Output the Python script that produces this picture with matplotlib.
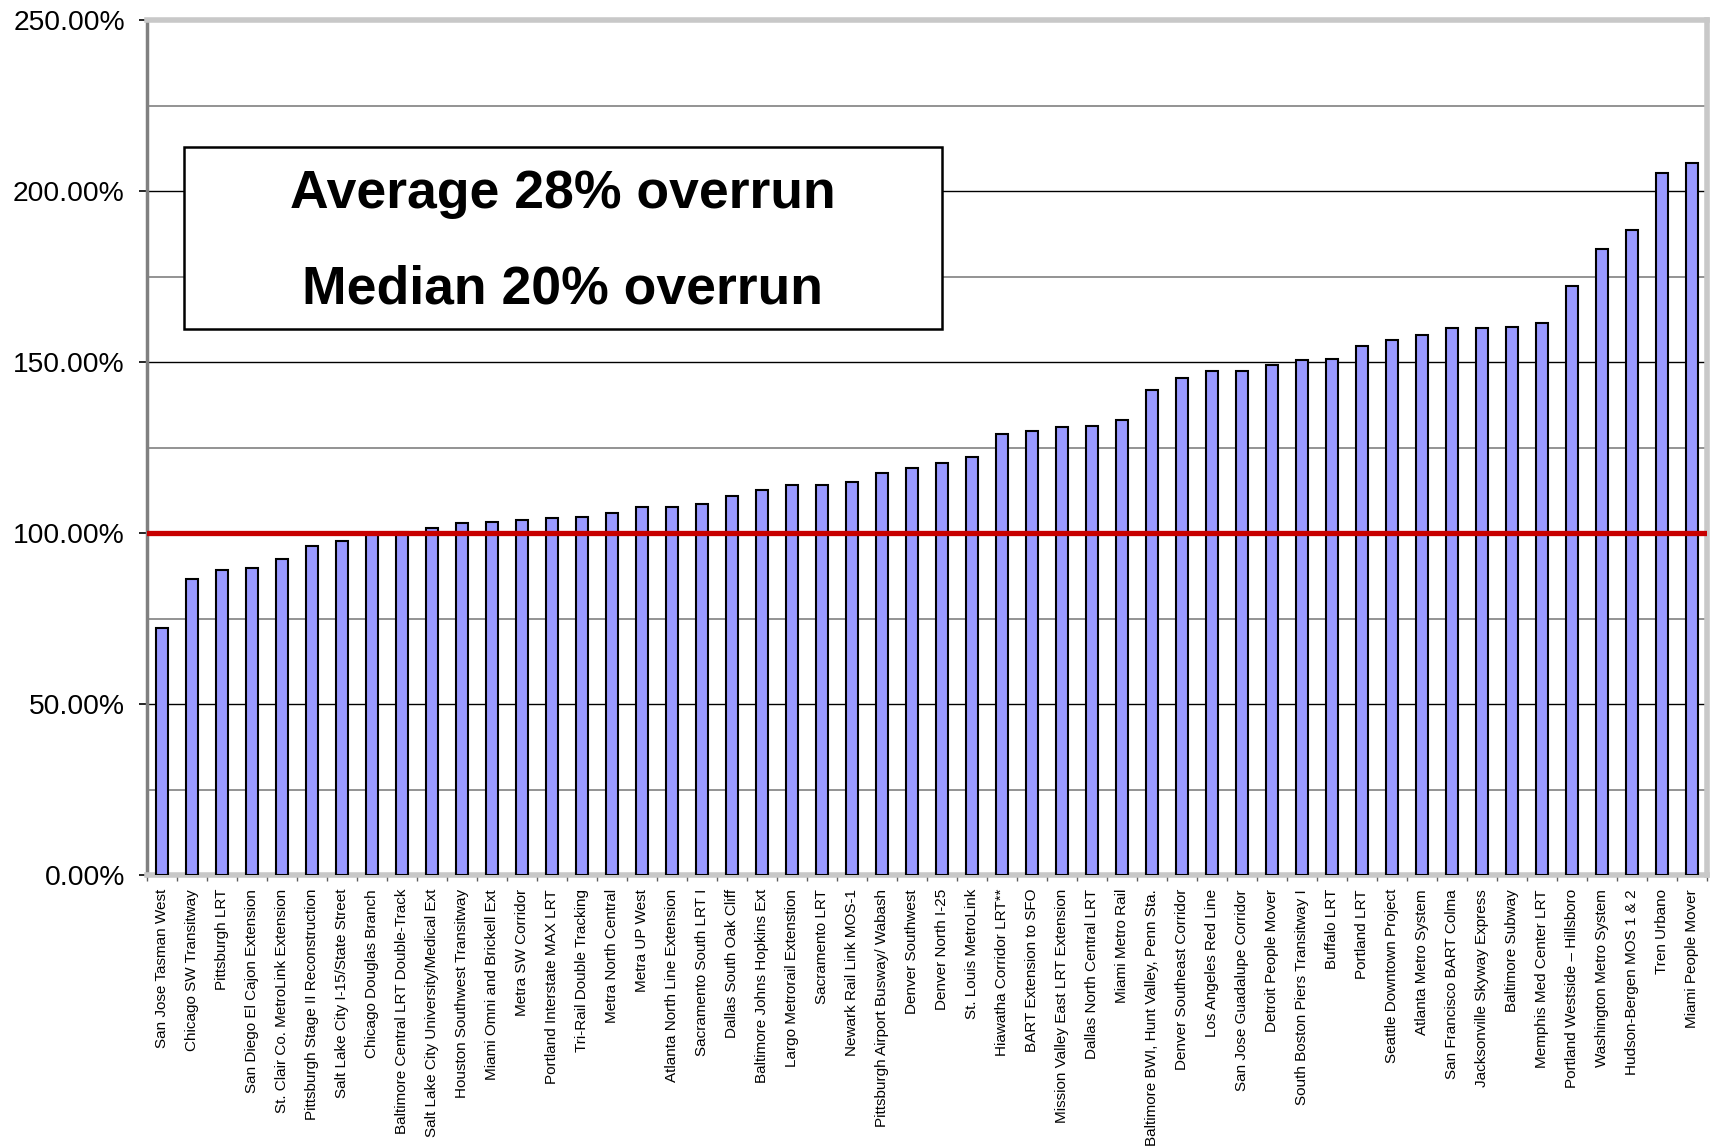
import matplotlib
matplotlib.use("Agg")
import matplotlib.pyplot as plt
from matplotlib.patches import Rectangle
from matplotlib.ticker import MultipleLocator, FuncFormatter, FixedLocator

plt.rcParams['font.family'] = ['Liberation Sans', 'DejaVu Sans']

projects = [
    "San Jose Tasman West", "Chicago SW Transitway", "Pittsburgh LRT",
    "San Diego El Cajon Extension", "St. Clair Co. MetroLink Extension",
    "Pittsburgh Stage II Reconstruction", "Salt Lake City I-15/State Street",
    "Chicago Douglas Branch", "Baltimore Central LRT Double-Track",
    "Salt Lake City University/Medical Ext", "Houston Southwest Transitway",
    "Miami Omni and Brickell Ext", "Metra SW Corridor", "Portland Interstate MAX LRT",
    "Tri-Rail Double Tracking", "Metra North Central", "Metra UP West",
    "Atlanta North Line Extension", "Sacramento South LRT I", "Dallas South Oak Cliff",
    "Baltimore Johns Hopkins Ext", "Largo Metrorail Extenstion", "Sacramento LRT",
    "Newark Rail Link MOS-1", "Pittsburgh Airport Busway/ Wabash", "Denver Southwest",
    "Denver North I-25", "St. Louis MetroLink", "Hiawatha Corridor LRT**",
    "BART Extension to SFO", "Mission Valley East LRT Extension",
    "Dallas North Central LRT", "Miami Metro Rail",
    "Baltimore BWI, Hunt Valley, Penn Sta.", "Denver Southeast Corridor",
    "Los Angeles Red Line", "San Jose Guadalupe Corridor", "Detroit People Mover",
    "South Boston Piers Transitway I", "Buffalo LRT", "Portland LRT",
    "Seattle Downtown Project", "Atlanta Metro System", "San Francisco BART Colma",
    "Jacksonville Skyway Express", "Baltimore Subway", "Memphis Med Center LRT",
    "Portland Westside \u2013 Hillsboro", "Washington Metro System",
    "Hudson-Bergen MOS 1 & 2", "Tren Urbano", "Miami People Mover",
]

cost_ratio_pct = [
    72.1, 86.5, 89.2, 89.9, 92.3, 96.2, 97.8, 100.1, 100.3, 101.6,
    102.9, 103.2, 103.8, 104.3, 104.8, 105.9, 107.5, 107.7, 108.6, 110.8,
    112.7, 113.9, 114.1, 114.8, 117.5, 119.0, 120.5, 122.3, 128.9, 129.9,
    130.9, 131.4, 132.9, 141.8, 145.4, 147.3, 147.4, 149.2, 150.5, 150.8,
    154.6, 156.4, 157.9, 159.8, 159.9, 160.2, 161.3, 172.2, 182.9, 188.7,
    205.2, 208.3,
]

reference_pct = 100
annotation_lines = ["Average 28% overrun", "Median 20% overrun"]

W, H = 1713, 1147
fig = plt.figure(figsize=(W / 100, H / 100), dpi=100)
fig.patch.set_facecolor("white")

left, right, top, bottom = 147, 1707, 20, 875
ax = fig.add_axes([left / W, 1 - bottom / H, (right - left) / W, (bottom - top) / H])

x = list(range(len(projects)))
ax.bar(x, cost_ratio_pct, width=0.42, color="#9999FF", edgecolor="black",
       linewidth=1.5, zorder=3)

ax.axhline(reference_pct, color="#C80000", linewidth=3.8, zorder=4)

ax.set_xlim(-0.5, len(projects) - 0.5)
ax.set_ylim(0, 250)

# y axis
ax.yaxis.set_major_locator(MultipleLocator(50))
ax.yaxis.set_minor_locator(MultipleLocator(25))
ax.yaxis.set_major_formatter(FuncFormatter(lambda v, p: f"{v:.2f}%"))
ax.tick_params(axis="y", which="major", length=6, width=1.2, direction="out",
               labelsize=20.3, pad=10, color="black")
ax.tick_params(axis="y", which="minor", length=0)
ax.grid(axis="y", which="major", color="black", linewidth=1.0, zorder=0)
ax.grid(axis="y", which="minor", color="#808080", linewidth=1.2, zorder=0)
ax.set_axisbelow(True)

# x axis
ax.set_xticks(x)
ax.set_xticklabels(projects, rotation=90, fontsize=11, va="top", ha="center")
ax.xaxis.set_minor_locator(FixedLocator([i + 0.5 for i in range(-1, len(projects))]))
ax.tick_params(axis="x", which="major", length=0, pad=10)
ax.tick_params(axis="x", which="minor", length=4, width=1, color="#606060", direction="out")

for s in ["top", "right", "bottom"]:
    ax.spines[s].set_color("#c8c8c8")
    ax.spines[s].set_linewidth(4)
ax.spines["left"].set_color("#808080")
ax.spines["left"].set_linewidth(2.5)

# annotation box
bx0, by0, bx1, by1 = 184, 147, 942, 329
rect = Rectangle((bx0 / W, 1 - by1 / H), (bx1 - bx0) / W, (by1 - by0) / H,
                 transform=fig.transFigure, facecolor="white", edgecolor="black",
                 linewidth=1.8, zorder=5)
fig.add_artist(rect)
cx = (bx0 + bx1) / 2 / W
fig.text(cx, 1 - 194 / H, annotation_lines[0], fontsize=38.5, fontweight="bold",
         ha="center", va="center", zorder=6)
fig.text(cx, 1 - 290 / H, annotation_lines[1], fontsize=38.5, fontweight="bold",
         ha="center", va="center", zorder=6)

fig.savefig("out.png", dpi=100, facecolor="white")
